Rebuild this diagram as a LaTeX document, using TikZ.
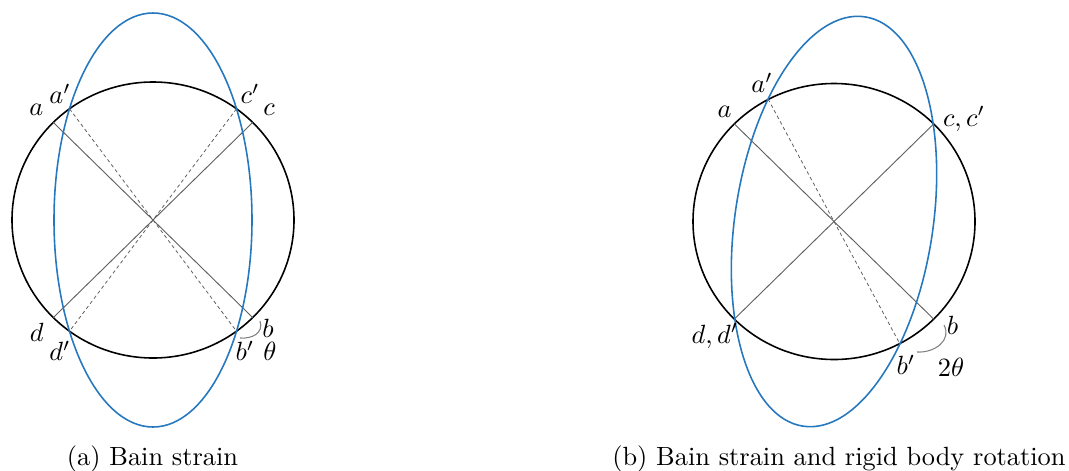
\documentclass[tikz,border=0pt]{standalone}
\usetikzlibrary{calc}
\definecolor{bainblue}{RGB}{38,120,190}
\definecolor{diaggray}{RGB}{95,95,95}
\begin{document}
\begin{tikzpicture}[x=0.3795pt,y=0.3795pt,
  circ/.style={draw=black,line width=0.6pt},
  blueell/.style={draw=bainblue,line width=0.6pt},
  diag/.style={draw=diaggray,line width=0.35pt},
  dashdiag/.style={draw=diaggray,line width=0.3pt,dash pattern=on 1.3pt off 1.1pt},
  arcline/.style={draw=gray,line width=0.4pt},
  lbl/.style={inner sep=0pt,font=\fontsize{10.4}{12}\selectfont},
  captext/.style={inner sep=0pt,anchor=base,font=\fontsize{10}{12}\selectfont}]
\useasboundingbox (0,0) rectangle (1069,-470);

% ---------- (a) Bain strain ----------
\begin{scope}[shift={(153,-220)}]
  \coordinate (La) at (-99.7,97.6);
  \coordinate (Lb) at (99.7,-97.6);
  \coordinate (Lc) at (99.7,97.6);
  \coordinate (Ld) at (-99.7,-97.6);
  \coordinate (Lap) at (-83.5,111.2);
  \coordinate (Lcp) at (83.5,111.2);
  \coordinate (Lbp) at (83.5,-111.2);
  \coordinate (Ldp) at (-83.5,-111.2);
  \draw[circ] (0,0) ellipse [x radius=141, y radius=138];
  \draw[diag] (La) -- (Lb);
  \draw[diag] (Lc) -- (Ld);
  \draw[dashdiag] (Lap) -- (Lbp);
  \draw[dashdiag] (Lcp) -- (Ldp);
  \draw[blueell] (0,0) ellipse [x radius=99, y radius=207];
  \coordinate (LarcS) at (107,-101);
  \coordinate (LarcE) at (87,-118);
  \draw[arcline] (LarcS) .. controls (111,-113) and (99,-119) .. (LarcE);
  \node[lbl] (tLa) at (-116.7,110) {$a$};
  \node[lbl] (tLap) at (-93,126) {$a'$};
  \node[lbl] (tLcp) at (97,126) {$c'$};
  \node[lbl] (tLc) at (116,110) {$c$};
  \node[lbl] (tLd) at (-116.3,-112) {$d$};
  \node[lbl] (tLdp) at (-93,-131) {$d'$};
  \node[lbl] (tLb) at (115,-108.5) {$b$};
  \node[lbl] (tLbp) at (92,-131) {$b'$};
  \node[lbl] (tLth) at (117,-131) {$\theta$};
\end{scope}
\node[captext] (capa) at (152.5,-465) {(a) Bain strain};

% ---------- (b) Bain strain and rigid body rotation ----------
\begin{scope}[shift={(834,-221.5)}]
  \coordinate (Ra) at (-99.7,97.6);
  \coordinate (Rb) at (99.7,-97.6);
  \coordinate (Rc) at (99.7,97.6);
  \coordinate (Rd) at (-99.7,-97.6);
  \coordinate (Rap) at (-65.9,122.4);
  \coordinate (Rbp) at (65.9,-122.4);
  \draw[circ] (0,0) ellipse [x radius=141, y radius=138];
  \draw[diag] (Ra) -- (Rb);
  \draw[diag] (Rc) -- (Rd);
  \draw[dashdiag] (Rap) -- (Rbp);
  \draw[blueell, rotate=-8.6] (0,0) ellipse [x radius=99, y radius=207];
  \coordinate (RarcS) at (110,-103.5);
  \coordinate (RarcE) at (83,-130.5);
  \draw[arcline] (RarcS) .. controls (118,-118.5) and (101,-131.5) .. (RarcE);
  \node[lbl] (tRa) at (-109.5,109.5) {$a$};
  \node[lbl] (tRap) at (-72,138.5) {$a'$};
  \node[lbl] (tRc) at (130,102.5) {$c,c'$};
  \node[lbl] (tRd) at (-119,-114.5) {$d,d'$};
  \node[lbl] (tRb) at (118.5,-103.5) {$b$};
  \node[lbl] (tRbp) at (72,-143.5) {$b'$};
  \node[lbl] (tRth) at (117,-146) {$2\theta$};
\end{scope}
\node[captext] (capb) at (838.9,-465) {(b) Bain strain and rigid body rotation};
\end{tikzpicture}
\end{document}
